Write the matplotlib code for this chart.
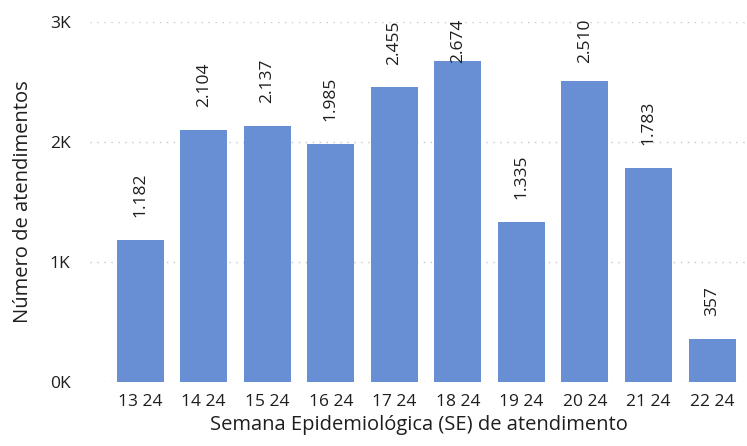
import matplotlib.pyplot as plt

semanas = ["13 24", "14 24", "15 24", "16 24", "17 24", "18 24", "19 24", "20 24", "21 24", "22 24"]
atendimentos = [1182, 2104, 2137, 1985, 2455, 2674, 1335, 2510, 1783, 357]
rotulos = ["1.182", "2.104", "2.137", "1.985", "2.455", "2.674", "1.335", "2.510", "1.783", "357"]

plt.rcParams["font.family"] = ["Open Sans", "DejaVu Sans"]
texto = "#1E1E1E"

fig = plt.figure(figsize=(7.47, 4.46), dpi=100)
ax = fig.add_axes([0.1205, 0.1435, 0.8795, 0.8072])

x = range(len(semanas))
ax.bar(x, atendimentos, width=0.74, color="#688ED4", zorder=2)

# rotulos acima das barras, limitados ao topo
for i, v in enumerate(atendimentos):
    ax.text(i, min(v + 190, 2660), rotulos[i], rotation=90, ha="center", va="bottom",
            fontsize=12.5, color=texto, clip_on=False)

ax.set_ylim(0, 3000)
ax.set_xlim(-0.79, 9.55)
ax.set_yticks([0, 1000, 2000, 3000])
ax.set_yticklabels(["0K", "1K", "2K", "3K"])
ax.set_xticks(list(x))
ax.set_xticklabels(semanas)
ax.tick_params(axis="both", length=0, labelsize=12.5, colors=texto)
ax.tick_params(axis="y", pad=14)
ax.tick_params(axis="x", pad=9)
ax.grid(axis="y", linestyle=(0, (1, 4)), color="#C8C8C8", linewidth=1, zorder=0)
for s in ax.spines.values():
    s.set_visible(False)

ax.set_xlabel("Semana Epidemiológica (SE) de atendimento", fontsize=14.5, color=texto, labelpad=3)
ax.set_ylabel("Número de atendimentos", fontsize=14.5, color=texto, labelpad=12)

plt.savefig("out.png", dpi=100)
